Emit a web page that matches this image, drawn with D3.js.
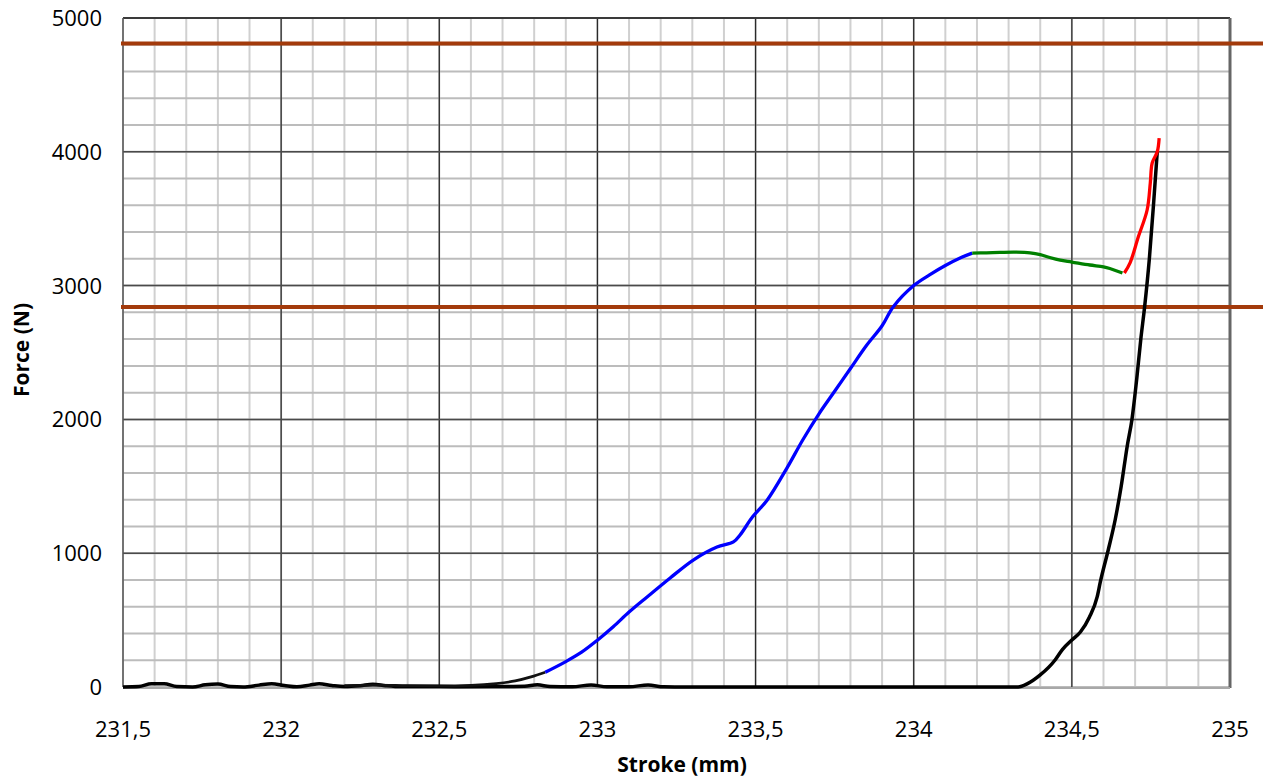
<!DOCTYPE html>
<html>
<head>
<meta charset="utf-8">
<script src="https://cdn.jsdelivr.net/npm/d3@7"></script>
<style>
  body { margin: 0; background: #fff; }
  text { font-family: "Open Sans", "Noto Sans", sans-serif; }
</style>
</head>
<body>
<svg id="chart" width="1263" height="783"></svg>
<script>
// stroke (mm) / force (N) pairs
var refCurve = [
  [231.5,0],[231.55,3],[231.59,24],[231.63,24],[231.67,3],[231.72,0],[231.76,16],[231.8,22],[231.84,3],
  [231.88,0],[231.93,14],[231.97,24],[232.01,12],[232.05,2],[232.09,14],[232.12,24],[232.16,12],[232.2,4],
  [232.25,10],[232.29,20],[232.33,10],[232.38,3],[232.45,4],[232.55,2],[232.7,4],[232.77,6],[232.81,16],
  [232.85,4],[232.92,2],[232.98,15],[233.03,2],[233.1,2],[233.16,15],[233.21,1],[233.3,0],[234.0,0],
  [234.33,0],[234.36,25],[234.4,90],[234.447,202],[234.47,280],[234.5,351],[234.527,411],[234.555,520],
  [234.58,673],[234.59,785],[234.615,1024],[234.637,1250],[234.656,1500],[234.675,1800],[234.69,2000],
  [234.705,2300],[234.718,2600],[234.73,2840],[234.745,3200],[234.758,3600],[234.77,4000]
];
var startPart = [
  [232.2,10],[232.3,14],[232.4,10],[232.5,8],[232.6,12],[232.68,25],[232.74,45],[232.79,75],[232.835,110]
];
var bluePart = [
  [232.835,110],[232.9,190],[232.95,260],[233.0,350],[233.05,450],[233.1,560],[233.157,673],[233.23,815],
  [233.303,949],[233.378,1046],[233.43,1084],[233.451,1136],[233.49,1270],[233.537,1398],[233.6,1640],
  [233.65,1850],[233.7,2040],[233.75,2210],[233.8,2380],[233.85,2550],[233.9,2700],[233.935,2840],
  [234.0,3000],[234.05,3080],[234.1,3150],[234.15,3210],[234.185,3243]
];
var greenPart = [
  [234.185,3243],[234.23,3245],[234.273,3248],[234.32,3250],[234.368,3245],[234.4,3232],[234.43,3210],
  [234.463,3190],[234.5,3176],[234.557,3154],[234.6,3140],[234.62,3128],[234.66,3094]
];
var redPart = [
  [234.666,3094],[234.684,3170],[234.71,3363],[234.738,3565],[234.748,3767],[234.754,3916],[234.77,4000],[234.776,4103]
];
var limits = [4810, 2840];
var xTicks = [231.5, 232, 232.5, 233, 233.5, 234, 234.5, 235];
var yTicks = [0, 1000, 2000, 3000, 4000, 5000];

var svg = d3.select("#chart");
var plotL = 123, plotR = 1230, plotT = 18, plotB = 687;

var x = d3.scaleLinear().domain([231.5, 235]).range([plotL, plotR]);
var y = d3.scaleLinear().domain([0, 5000]).range([plotB, plotT]);

var grid = svg.append("g");
var minorX = d3.range(0, 36).map(function(i) { return 231.5 + i * 0.1; });
var minorY = d3.range(0, 26).map(function(i) { return i * 200; });

grid.selectAll(".mx").data(minorX).enter().append("line")
  .attr("x1", function(d) { return x(d); }).attr("x2", function(d) { return x(d); })
  .attr("y1", plotT).attr("y2", plotB)
  .attr("stroke", "#d0d0d0").attr("stroke-width", 2);
grid.selectAll(".my").data(minorY).enter().append("line")
  .attr("x1", plotL).attr("x2", plotR)
  .attr("y1", function(d) { return y(d); }).attr("y2", function(d) { return y(d); })
  .attr("stroke", "#bcbcbc").attr("stroke-width", 2);

grid.selectAll(".Mx").data(xTicks.slice(1, -1)).enter().append("line")
  .attr("x1", function(d) { return x(d); }).attr("x2", function(d) { return x(d); })
  .attr("y1", plotT).attr("y2", plotB)
  .attr("stroke", "#2a2a2a").attr("stroke-width", 1.3);
grid.selectAll(".My").data(yTicks.slice(1, -1)).enter().append("line")
  .attr("x1", plotL).attr("x2", plotR)
  .attr("y1", function(d) { return y(d); }).attr("y2", function(d) { return y(d); })
  .attr("stroke", "#4a4a4a").attr("stroke-width", 1.5);

// frame
svg.append("line").attr("x1", plotL).attr("x2", plotR).attr("y1", plotT).attr("y2", plotT)
  .attr("stroke", "#3a3a3a").attr("stroke-width", 2);
svg.append("line").attr("x1", plotL).attr("x2", plotL).attr("y1", plotT).attr("y2", plotB)
  .attr("stroke", "#555").attr("stroke-width", 1.5);
svg.append("line").attr("x1", plotR).attr("x2", plotR).attr("y1", plotT).attr("y2", plotB + 1)
  .attr("stroke", "#666").attr("stroke-width", 3);
svg.append("line").attr("x1", plotL).attr("x2", plotR).attr("y1", plotB + 1).attr("y2", plotB + 1)
  .attr("stroke", "#a8a8a8").attr("stroke-width", 2);

// limit lines
svg.selectAll(".lim").data(limits).enter().append("line")
  .attr("x1", plotL - 2).attr("x2", 1263)
  .attr("y1", function(d) { return y(d); }).attr("y2", function(d) { return y(d); })
  .attr("stroke", "#a33a0b").attr("stroke-width", 4);

var line = d3.line()
  .x(function(d) { return x(d[0]); })
  .y(function(d) { return y(d[1]); })
  .curve(d3.curveMonotoneX);

svg.append("path").datum(refCurve).attr("d", line)
  .attr("fill", "none").attr("stroke", "#000").attr("stroke-width", 3.5);
svg.append("path").datum(startPart).attr("d", line)
  .attr("fill", "none").attr("stroke", "#111").attr("stroke-width", 2.8);

var lineXY = d3.line()
  .x(function(d) { return x(d[0]); })
  .y(function(d) { return y(d[1]); })
  .curve(d3.curveCatmullRom);
svg.append("path").datum(bluePart).attr("d", lineXY)
  .attr("fill", "none").attr("stroke", "#0000ff").attr("stroke-width", 3.3);
svg.append("path").datum(greenPart).attr("d", lineXY)
  .attr("fill", "none").attr("stroke", "#008000").attr("stroke-width", 3.3);
svg.append("path").datum(redPart).attr("d", lineXY)
  .attr("fill", "none").attr("stroke", "#ff0000").attr("stroke-width", 3.3);

// tick labels
svg.selectAll(".xl").data(xTicks).enter().append("text")
  .attr("x", function(d) { return x(d); }).attr("y", 737)
  .attr("text-anchor", "middle").attr("font-size", 22).attr("fill", "#000")
  .text(function(d) { return String(d).replace(".", ","); });
svg.selectAll(".yl").data(yTicks).enter().append("text")
  .attr("x", 102).attr("y", function(d) { return y(d) + 8; })
  .attr("text-anchor", "end").attr("font-size", 22).attr("fill", "#000")
  .text(function(d) { return d; });

svg.append("text").attr("x", 682).attr("y", 772).attr("text-anchor", "middle")
  .attr("font-size", 21).attr("font-weight", "bold").text("Stroke (mm)");
svg.append("text").attr("transform", "translate(29,350) rotate(-90)").attr("text-anchor", "middle")
  .attr("font-size", 21).attr("font-weight", "bold").text("Force (N)");
</script>
</body>
</html>
